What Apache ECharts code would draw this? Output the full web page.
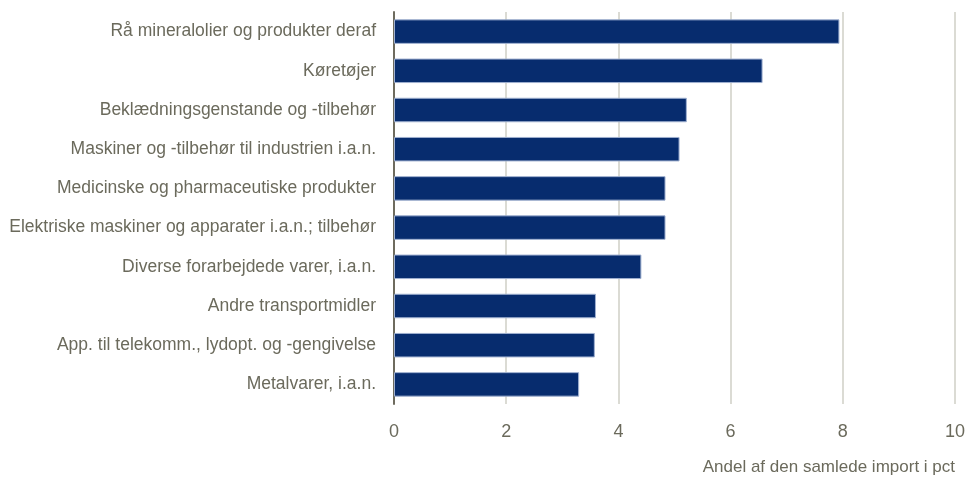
<!DOCTYPE html>
<html>
<head>
<meta charset="utf-8">
<script src="https://cdn.jsdelivr.net/npm/echarts@6/dist/echarts.min.js"></script>
<style>
  html, body { margin: 0; padding: 0; background: #fff; }
  #chart { width: 970px; height: 484px; }
</style>
</head>
<body>
<div id="chart"></div>
<script>
// varegrupper, største først
var categories = [
  'Rå mineralolier og produkter deraf',
  'Køretøjer',
  'Beklædningsgenstande og -tilbehør',
  'Maskiner og -tilbehør til industrien i.a.n.',
  'Medicinske og pharmaceutiske produkter',
  'Elektriske maskiner og apparater i.a.n.; tilbehør',
  'Diverse forarbejdede varer, i.a.n.',
  'Andre transportmidler',
  'App. til telekomm., lydopt. og -gengivelse',
  'Metalvarer, i.a.n.'
];
var values = [7.94, 6.57, 5.22, 5.09, 4.84, 4.84, 4.41, 3.60, 3.58, 3.30];
var axisName = 'Andel af den samlede import i pct';

var font = '"Liberation Sans", Arial, sans-serif';
var textColor = '#6b6a5c';

var chart = echarts.init(document.getElementById('chart'));
chart.setOption({
  animation: false,
  grid: { left: 394, right: 15, top: 12, bottom: 80, containLabel: false, outerBoundsMode: 'none' },
  xAxis: {
    type: 'value',
    min: 0,
    max: 10,
    interval: 2,
    name: axisName,
    nameLocation: 'end',
    nameGap: 0,
    nameTextStyle: {
      color: textColor, fontSize: 17, fontFamily: font,
      align: 'right', verticalAlign: 'top', padding: [55, 0, 0, 0]
    },
    axisLine: { show: false },
    axisTick: { show: false },
    axisLabel: { color: textColor, fontSize: 18, fontFamily: font, margin: 19 },
    splitLine: { lineStyle: { color: '#cfcfc6', width: 1.5 } }
  },
  yAxis: {
    type: 'category',
    data: categories,
    inverse: true,
    axisLine: { lineStyle: { color: '#6e6b5e', width: 2 } },
    axisTick: { show: false },
    axisLabel: { color: textColor, fontSize: 17.5, fontFamily: font, margin: 18 }
  },
  series: [{
    type: 'bar',
    data: values,
    barCategoryGap: '37.5%',
    itemStyle: { color: '#072c6e', borderColor: '#9fb0d0', borderWidth: 1 }
  }]
});
</script>
</body>
</html>
